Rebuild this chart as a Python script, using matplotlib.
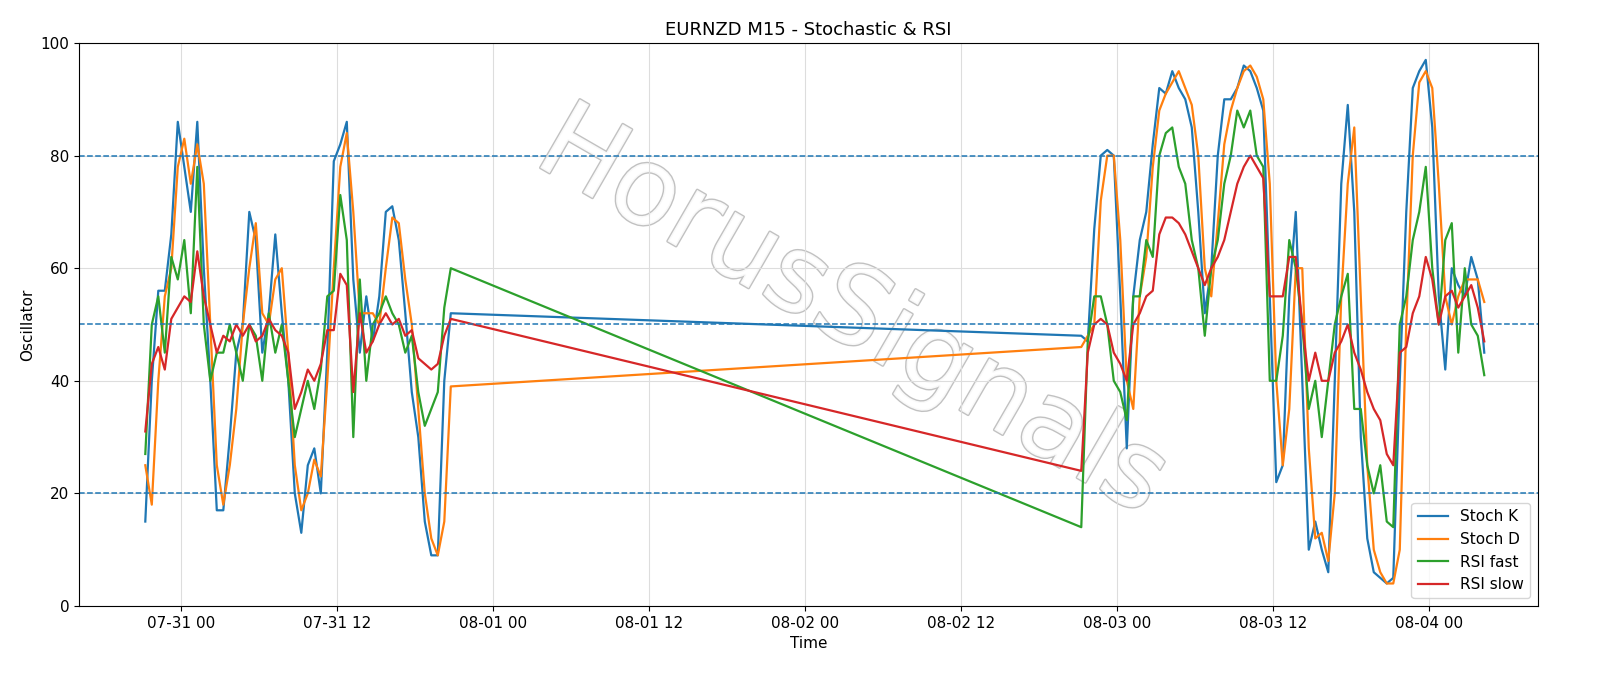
import matplotlib
matplotlib.use("Agg")
import matplotlib.pyplot as plt
import matplotlib.dates as mdates
import matplotlib.patheffects as pe
import pandas as pd

seg1_start = "2025-07-30 21:15"
seg2_start = "2025-08-02 21:15"

k1 = [15,40,56,56,66,86,78,70,86,60,40,17,17,30,45,50,70,65,45,52,66,52,40,20,13,25,28,20,45,79,82,86,58,45,55,47,55,70,71,65,52,38,30,15,9,9,40,52]
d1 = [25,18,40,55,60,78,83,75,82,75,50,25,18,25,35,50,60,68,52,50,58,60,45,25,17,20,26,23,40,60,78,84,70,52,52,52,50,60,69,68,58,50,35,20,12,9,15,39]
f1 = [27,50,55,45,62,58,65,52,78,50,40,45,45,50,45,40,50,48,40,52,45,50,40,30,35,40,35,42,55,56,73,65,30,58,40,50,52,55,52,50,45,48,38,32,35,38,53,60]
s1 = [31,43,46,42,51,53,55,54,63,55,50,45,48,47,50,48,50,47,48,51,49,48,45,35,38,42,40,43,49,49,59,57,38,52,45,47,50,52,50,51,48,49,44,43,42,43,48,51]

k2 = [48,47,67,80,81,80,55,28,55,65,70,82,92,91,95,92,90,85,70,52,60,80,90,90,92,96,95,92,88,55,22,25,55,70,40,10,15,10,6,40,75,89,70,30,12,6,5,4,5,40,70,92,95,97,85,55,42,60,57,55,62,58,45]
d2 = [46,48,50,72,80,80,65,40,35,55,62,78,88,91,93,95,92,89,80,60,55,68,82,88,92,95,96,94,90,75,40,25,35,60,60,28,12,13,8,20,55,75,85,55,25,10,6,4,4,10,50,80,93,95,92,75,55,50,55,58,58,58,54]
f2 = [14,47,55,55,50,40,38,33,55,55,65,62,80,84,85,78,75,65,60,48,60,65,75,80,88,85,88,80,78,40,40,48,65,60,50,35,40,30,40,50,55,59,35,35,25,20,25,15,14,50,55,65,70,78,60,50,65,68,45,60,50,48,41]
s2 = [24,45,50,51,50,45,43,40,50,52,55,56,66,69,69,68,66,63,60,57,60,62,65,70,75,78,80,78,76,55,55,55,62,62,50,40,45,40,40,45,47,50,45,42,38,35,33,27,25,45,46,52,55,62,58,50,55,56,53,55,57,53,47]

t1 = pd.date_range(seg1_start, periods=len(k1), freq="30min")
t2 = pd.date_range(seg2_start, periods=len(k2), freq="30min")
t = t1.append(t2)
K = k1 + k2; D = d1 + d2; F = f1 + f2; S = s1 + s2

fig = plt.figure(figsize=(16, 6.86), dpi=100)
ax = fig.add_axes([79/1600, 1-606/686, (1538-79)/1600, (606-43)/686])
ax.plot(t, K, color="#1f77b4", lw=1.6, label="Stoch K")
ax.plot(t, D, color="#ff7f0e", lw=1.6, label="Stoch D")
ax.plot(t, F, color="#2ca02c", lw=1.6, label="RSI fast")
ax.plot(t, S, color="#d62728", lw=1.6, label="RSI slow")
for lvl in (20, 50, 80):
    ax.axhline(lvl, color="#1f77b4", ls="--", lw=1.1)
ax.set_ylim(0, 100)
ax.set_xlim(pd.Timestamp("2025-07-30 16:09"), pd.Timestamp("2025-08-04 08:23"))
ax.xaxis.set_major_locator(mdates.HourLocator(byhour=[0, 12]))
ax.xaxis.set_major_formatter(mdates.DateFormatter("%m-%d %H"))
ax.grid(True, color="#dddddd", lw=0.8)
ax.set_axisbelow(True)
ax.set_title("EURNZD M15 - Stochastic & RSI", fontsize=13)
ax.set_xlabel("Time", fontsize=11)
ax.set_ylabel("Oscillator", fontsize=11)
ax.tick_params(labelsize=11)
ax.legend(loc="lower right", fontsize=11)
ax.text(0.53, 0.52, "HorusSignals", transform=ax.transAxes, fontsize=78,
        rotation=-30, ha="center", va="center", color="white", alpha=0.9,
        path_effects=[pe.withStroke(linewidth=2, foreground="#bbbbbb")], zorder=0.5)
fig.savefig("out.png", dpi=100)
